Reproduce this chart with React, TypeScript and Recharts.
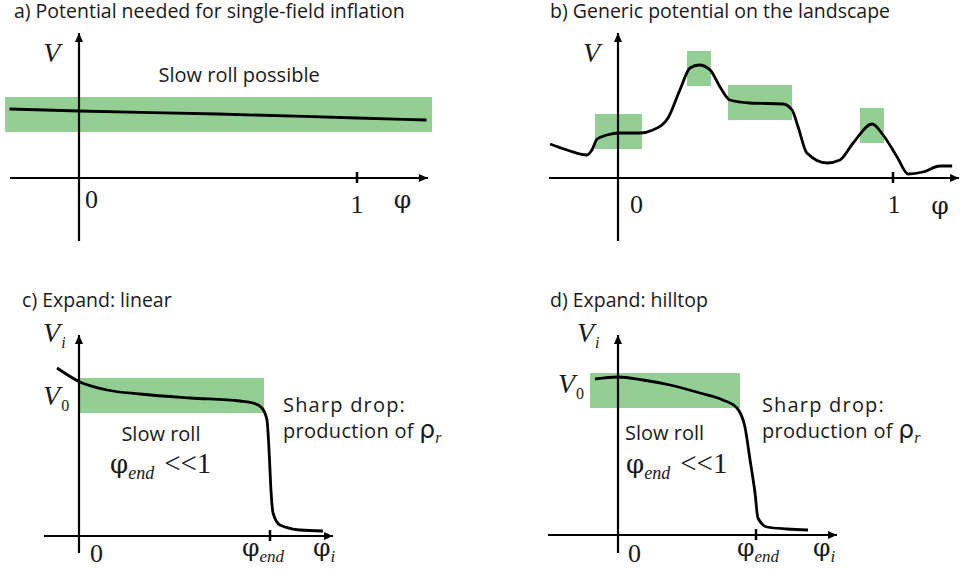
import React from 'react';
import { LineChart, Line, XAxis, YAxis, ReferenceArea, ReferenceLine, ReferenceDot } from 'recharts';

const GREEN = '#93cf93';
const SANS = '"Open Sans", Lato, sans-serif';
const SERIF = '"Liberation Serif", "Times New Roman", serif';
const PHI_FONT = '"DejaVu Serif", "Liberation Serif", serif';
const GREEK = '"DejaVu Sans", "Noto Sans", sans-serif';

// a) single-field inflation: almost flat potential
const phiA = [-0.25, 0, 0.5, 1, 1.25];
const vA = [0.69, 0.67, 0.64, 0.6, 0.58];
const boxesA = [{ x1: -0.266, x2: 1.27, y1: 0.46, y2: 0.81 }];

// b) generic landscape potential
const phiB = [
  -0.247, -0.185, -0.113, -0.095, -0.076, -0.04, 0.004, 0.08, 0.127, 0.182, 0.225, 0.262, 0.295, 0.335, 0.371,
  0.407, 0.48, 0.6, 0.633, 0.655, 0.687, 0.76, 0.807, 0.855, 0.924, 0.964, 1.015, 1.055, 1.109, 1.171, 1.215,
];
const vB = [
  0.34, 0.28, 0.23, 0.28, 0.39, 0.43, 0.45, 0.45, 0.48, 0.6, 0.88, 1.1, 1.13, 1.08, 0.91,
  0.78, 0.75, 0.74, 0.68, 0.51, 0.25, 0.15, 0.18, 0.35, 0.54, 0.43, 0.21, 0.04, 0.06, 0.12, 0.12,
];
const boxesB = [
  { x1: -0.084, x2: 0.087, y1: 0.29, y2: 0.64 },
  { x1: 0.251, x2: 0.338, y1: 0.92, y2: 1.27 },
  { x1: 0.4, x2: 0.633, y1: 0.58, y2: 0.93 },
  { x1: 0.88, x2: 0.967, y1: 0.35, y2: 0.7 },
];

// c) linear expansion (phi in units of phi_end)
const phiC = [-0.115, 0.005, 0.147, 0.319, 0.581, 0.843, 0.911, 0.958, 0.984, 0.995, 1.005, 1.016, 1.052, 1.157, 1.277];
const vC = [1.68, 1.54, 1.46, 1.42, 1.38, 1.35, 1.33, 1.28, 1.16, 0.86, 0.46, 0.23, 0.11, 0.06, 0.05];
const boxesC = [{ x1: 0, x2: 0.969, y1: 1.23, y2: 1.58 }];

// d) hilltop expansion
const phiD = [-0.167, 0, 0.181, 0.377, 0.594, 0.761, 0.862, 0.92, 0.957, 0.993, 1.014, 1.08, 1.225, 1.377];
const vD = [1.56, 1.58, 1.55, 1.5, 1.42, 1.35, 1.27, 1.08, 0.75, 0.42, 0.17, 0.08, 0.06, 0.05];
const boxesD = [{ x1: -0.203, x2: 0.884, y1: 1.27, y2: 1.62 }];

const titles = [
  'a) Potential needed for single-field inflation',
  'b) Generic potential on the landscape',
  'c) Expand: linear',
  'd) Expand: hilltop',
];

const zip = (xs: number[], ys: number[]) => xs.map((phi, i) => ({ phi, v: ys[i] }));

type Box = { x1: number; x2: number; y1: number; y2: number };
type Lbl = { x: number; y: number; anchor?: 'start' | 'middle' | 'end'; node: React.ReactNode };

const sans = (t: string, size = 20, spacing = 0) => (
  <tspan fontFamily={SANS} fontSize={size} letterSpacing={spacing}>{t}</tspan>
);
const title = (t: string) => sans(t, 19.5);
const ser = (t: string, size = 26, italic = false) => (
  <tspan fontFamily={SERIF} fontSize={size} fontStyle={italic ? 'italic' : 'normal'}>{t}</tspan>
);
const phi = (size = 25) => <tspan fontFamily={PHI_FONT} fontSize={size}>φ</tspan>;
const V = (sub?: string, subItalic = true) => (
  <>
    {ser('V', 28, true)}
    {sub ? (
      <tspan fontFamily={SERIF} fontSize={16} fontStyle={subItalic ? 'italic' : 'normal'} dx={1} dy={6}>{sub}</tspan>
    ) : null}
  </>
);
const phiSub = (sub: string) => (
  <>
    {phi(25)}
    <tspan fontFamily={SERIF} fontSize={17} fontStyle="italic" dy={6}>{sub}</tspan>
  </>
);
const phiEndLess = (
  <>
    {phi(26)}
    <tspan fontFamily={SERIF} fontSize={18} fontStyle="italic" dy={6}>end</tspan>
    <tspan fontFamily={SERIF} fontSize={29} dx={10} dy={-6}>{'<<1'}</tspan>
  </>
);
const rhoLine = (
  <>
    {sans('production of ', 20, 0.3)}
    <tspan fontFamily={GREEK} fontSize={25}>ρ</tspan>
    <tspan fontFamily={SERIF} fontSize={16} fontStyle="italic" dy={5}>r</tspan>
  </>
);
const sharpDrop = sans('Sharp drop:', 20, 1.2);

const labelsA: Lbl[] = [
  { x: -0.234, y: 1.605, node: title(titles[0]) },
  { x: -0.129, y: 1.16, node: V() },
  { x: 0.576, y: 0.96, anchor: 'middle', node: sans('Slow roll possible') },
  { x: 0.022, y: -0.3, node: ser('0') },
  { x: 1.0, y: -0.35, anchor: 'middle', node: ser('1') },
  { x: 1.164, y: -0.3, anchor: 'middle', node: phi() },
];
const labelsB: Lbl[] = [
  { x: -0.247, y: 1.605, node: title(titles[1]) },
  { x: -0.127, y: 1.16, node: V() },
  { x: 0.044, y: -0.35, node: ser('0') },
  { x: 1.004, y: -0.35, anchor: 'middle', node: ser('1') },
  { x: 1.171, y: -0.36, anchor: 'middle', node: phi() },
];
const labelsC: Lbl[] = [
  { x: -0.298, y: 2.29, node: title(titles[2]) },
  { x: -0.188, y: 1.94, node: V('i') },
  { x: -0.188, y: 1.31, node: V('0', false) },
  { x: 0.429, y: 0.95, anchor: 'middle', node: sans('Slow roll') },
  { x: 0.162, y: 0.63, node: phiEndLess },
  { x: 1.068, y: 1.24, node: sharpDrop },
  { x: 1.068, y: 0.98, node: rhoLine },
  { x: 0.058, y: -0.26, node: ser('0') },
  { x: 0.853, y: -0.2, node: phiSub('end') },
  { x: 1.225, y: -0.2, node: phiSub('i') },
];
const labelsD: Lbl[] = [
  { x: -0.493, y: 2.28, node: title(titles[3]) },
  { x: -0.297, y: 1.93, node: V('i') },
  { x: -0.435, y: 1.42, node: V('0', false) },
  { x: 0.051, y: 0.95, node: sans('Slow roll') },
  { x: 0.058, y: 0.62, node: phiEndLess },
  { x: 1.043, y: 1.23, node: sharpDrop },
  { x: 1.043, y: 0.97, node: rhoLine },
  { x: 0.072, y: -0.27, node: ser('0') },
  { x: 0.862, y: -0.21, node: phiSub('end') },
  { x: 1.413, y: -0.21, node: phiSub('i') },
];

type PanelProps = {
  left: number;
  top: number;
  width: number;
  height: number;
  xDomain: [number, number];
  yDomain: [number, number];
  data: { phi: number; v: number }[];
  boxes: Box[];
  xAxis: [number, number];
  yAxis: [number, number];
  tick: number;
  labels: Lbl[];
};

const arrowRight = (p: any) => (
  <path d={`M${p.cx},${p.cy} l-9,-4 l0,8 z`} fill="#000" />
);
const arrowUp = (p: any) => (
  <path d={`M${p.cx},${p.cy} l-4,9 l8,0 z`} fill="#000" />
);
const tickMark = (p: any) => (
  <line x1={p.cx} x2={p.cx} y1={p.cy - 6} y2={p.cy + 5} stroke="#000" strokeWidth={2.5} />
);

function Panel({ left, top, width, height, xDomain, yDomain, data, boxes, xAxis, yAxis, tick, labels }: PanelProps) {
  return (
    <div style={{ position: 'absolute', left, top }}>
      <LineChart width={width} height={height} data={data} margin={{ top: 0, right: 0, bottom: 0, left: 0 }}>
        <XAxis type="number" dataKey="phi" domain={xDomain} hide allowDataOverflow />
        <YAxis type="number" domain={yDomain} hide allowDataOverflow />
        {boxes.map((b, i) => (
          <ReferenceArea key={i} {...b} fill={GREEN} fillOpacity={1} stroke="none" ifOverflow="visible" />
        ))}
        <ReferenceLine segment={[{ x: xAxis[0], y: 0 }, { x: xAxis[1], y: 0 }]} stroke="#000" strokeWidth={2.2} ifOverflow="visible" />
        <ReferenceLine segment={[{ x: 0, y: yAxis[0] }, { x: 0, y: yAxis[1] }]} stroke="#000" strokeWidth={2.2} ifOverflow="visible" />
        <ReferenceDot x={xAxis[1]} y={0} ifOverflow="visible" shape={arrowRight} />
        <ReferenceDot x={0} y={yAxis[1]} ifOverflow="visible" shape={arrowUp} />
        <ReferenceDot x={tick} y={0} ifOverflow="visible" shape={tickMark} />
        <Line
          dataKey="v"
          type="monotone"
          stroke="#000"
          strokeWidth={2.8}
          dot={false}
          activeDot={false}
          isAnimationActive={false}
        />
        {labels.map((l, i) => (
          <ReferenceDot
            key={`l${i}`}
            x={l.x}
            y={l.y}
            ifOverflow="visible"
            shape={(p: any) => (
              <text x={p.cx} y={p.cy} textAnchor={l.anchor ?? 'start'} fill="#1a1a1a">
                {l.node}
              </text>
            )}
          />
        ))}
      </LineChart>
    </div>
  );
}

export default function App() {
  return (
    <div style={{ position: 'absolute', left: 0, top: 0, width: 960, height: 573, background: '#fff', overflow: 'hidden' }}>
      <Panel left={0} top={0} width={480} height={280} xDomain={[-0.2842, 1.4424]} yDomain={[-1.02, 1.78]}
        data={zip(phiA, vA)} boxes={boxesA} xAxis={[-0.248, 1.255]} yAxis={[-0.63, 1.45]} tick={1} labels={labelsA} />
      <Panel left={480} top={0} width={480} height={280} xDomain={[-0.5018, 1.2436]} yDomain={[-1.02, 1.78]}
        data={zip(phiB, vB)} boxes={boxesB} xAxis={[-0.251, 1.24]} yAxis={[-0.63, 1.45]} tick={1} labels={labelsB} />
      <Panel left={0} top={280} width={480} height={293} xDomain={[-0.4136, 2.0995]} yDomain={[-0.37, 2.56]}
        data={zip(phiC, vC)} boxes={boxesC} xAxis={[-0.183, 1.33]} yAxis={[-0.17, 2.01]} tick={1} labels={labelsC} />
      <Panel left={480} top={280} width={480} height={293} xDomain={[-1, 2.4783]} yDomain={[-0.38, 2.55]}
        data={zip(phiD, vD)} boxes={boxesD} xAxis={[-0.507, 1.587]} yAxis={[-0.18, 2.0]} tick={1} labels={labelsD} />
    </div>
  );
}
